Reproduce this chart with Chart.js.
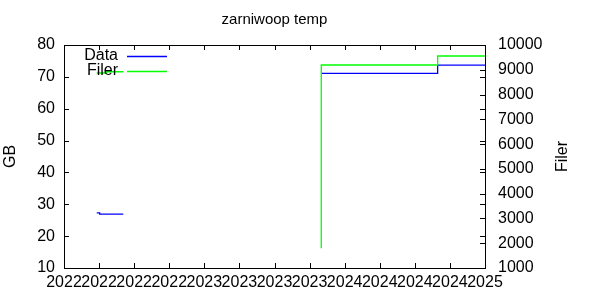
<!DOCTYPE html>
<html>
<head>
<meta charset="utf-8">
<title>zarniwoop temp</title>
<script src="https://cdn.jsdelivr.net/npm/chart.js@4"></script>
<style>
  html, body { margin: 0; padding: 0; background: #fff; }
  #wrap { width: 600px; height: 300px; position: relative; }
</style>
</head>
<body>
<div id="wrap"><canvas id="chart"></canvas></div>
<script>
// x values are months since Jan 2022; null = gap in the line
const titleText = 'zarniwoop temp';
const xTickLabels = ['2022', '2022', '2022', '2022', '2023', '2023', '2023', '2023',
                     '2024', '2024', '2024', '2024', '2025'];

const dataMonths = [2.8, 3.05, 5.07, 10, 22.0, 31.95, 36];
const dataGB     = [27.3, 26.9, 26.9, null, 71.1, 73.7, 73.7];

const filerMonths = [2.8, 3.6, 5.07, 10, 22.0, 22.0, 31.95, 36];
const filerCount  = [8870, 8920, 8920, null, 1795, 9193, 9556, 9556];

const seriesNames  = ['Data', 'Filer'];
const seriesColors = ['#0000ff', '#00ff00'];

const FONT = 'Liberation Sans, Arial, sans-serif';

const toPoints = (xs, ys) => xs.map((x, i) => ({ x, y: ys[i] }));

// gnuplot-style frame, inward ticks, title, axis titles and legend
const gnuplotDecor = {
  id: 'gnuplotDecor',
  afterDraw(chart) {
    const { ctx, chartArea: a, scales } = chart;
    const T = 5;
    ctx.save();
    ctx.strokeStyle = '#000';
    ctx.lineWidth = 1;
    ctx.strokeRect(a.left + 0.5, a.top + 0.5, a.right - a.left, a.bottom - a.top);

    ctx.beginPath();
    scales.x.ticks.forEach(t => {
      const px = Math.round(scales.x.getPixelForValue(t.value)) + 0.5;
      ctx.moveTo(px, a.bottom); ctx.lineTo(px, a.bottom - T);
      ctx.moveTo(px, a.top); ctx.lineTo(px, a.top + T);
    });
    scales.y.ticks.forEach(t => {
      const py = Math.round(scales.y.getPixelForValue(t.value)) + 0.5;
      ctx.moveTo(a.left, py); ctx.lineTo(a.left + T, py);
      ctx.moveTo(a.right, py); ctx.lineTo(a.right - T, py);
    });
    scales.y2.ticks.forEach(t => {
      const py = Math.round(scales.y2.getPixelForValue(t.value)) + 0.5;
      ctx.moveTo(a.right, py); ctx.lineTo(a.right - T, py);
    });
    ctx.stroke();

    ctx.fillStyle = '#000';
    ctx.textBaseline = 'middle';
    ctx.textAlign = 'center';
    ctx.font = `15px ${FONT}`;
    ctx.fillText(titleText, (a.left + a.right) / 2, 20);

    ctx.font = `16px ${FONT}`;
    const midY = (a.top + a.bottom) / 2;
    ctx.save();
    ctx.translate(11, midY); ctx.rotate(-Math.PI / 2);
    ctx.fillText('GB', 0, 0);
    ctx.restore();
    ctx.save();
    ctx.translate(563, midY); ctx.rotate(-Math.PI / 2);
    ctx.fillText('Filer', 0, 0);
    ctx.restore();

    // legend: right-aligned text, then a line sample
    ctx.textAlign = 'right';
    ctx.lineWidth = 1.3;
    seriesNames.forEach((name, i) => {
      const y = 55.5 + i * 15.5;
      ctx.fillStyle = '#000';
      ctx.fillText(name, 118, y);
      ctx.strokeStyle = seriesColors[i];
      ctx.beginPath();
      ctx.moveTo(127, Math.round(y) + 0.5);
      ctx.lineTo(167, Math.round(y) + 0.5);
      ctx.stroke();
    });
    ctx.restore();
  }
};

const tickFont = { family: FONT, size: 16 };

new Chart(document.getElementById('chart'), {
  type: 'line',
  data: {
    datasets: [
      {
        label: seriesNames[0],
        data: toPoints(dataMonths, dataGB),
        yAxisID: 'y',
        borderColor: seriesColors[0],
        borderWidth: 1.3,
        stepped: true,
        pointRadius: 0,
        spanGaps: false,
        order: 1,
      },
      {
        label: seriesNames[1],
        data: toPoints(filerMonths, filerCount),
        yAxisID: 'y2',
        borderColor: seriesColors[1],
        borderWidth: 1.3,
        stepped: true,
        pointRadius: 0,
        spanGaps: false,
        order: 0,
      },
    ],
  },
  options: {
    responsive: true,
    maintainAspectRatio: false,
    animation: false,
    layout: { padding: { top: 45, left: 0, right: 0, bottom: 0 } },
    plugins: {
      legend: { display: false },
      title: { display: false },
      tooltip: { enabled: false },
    },
    scales: {
      x: {
        type: 'linear',
        min: 0,
        max: 36,
        grid: { display: false, drawTicks: false },
        border: { display: false },
        ticks: {
          stepSize: 3,
          autoSkip: false,
          maxRotation: 0,
          minRotation: 0,
          padding: 5,
          color: '#000',
          font: tickFont,
          callback: (v, i) => xTickLabels[i],
        },
        afterFit: (s) => { s.height = 32; },
      },
      y: {
        position: 'left',
        min: 10,
        max: 80,
        grid: { display: false, drawTicks: false },
        border: { display: false },
        ticks: { stepSize: 10, padding: 9, color: '#000', font: tickFont },
        afterFit: (s) => { s.width = 64; },
      },
      y2: {
        position: 'right',
        min: 1000,
        max: 10000,
        grid: { display: false, drawTicks: false },
        border: { display: false },
        ticks: {
          stepSize: 1000,
          padding: 13,
          color: '#000',
          font: tickFont,
          callback: (v) => String(v),
        },
        afterFit: (s) => { s.width = 115; },
      },
    },
  },
  plugins: [gnuplotDecor],
});
</script>
</body>
</html>
